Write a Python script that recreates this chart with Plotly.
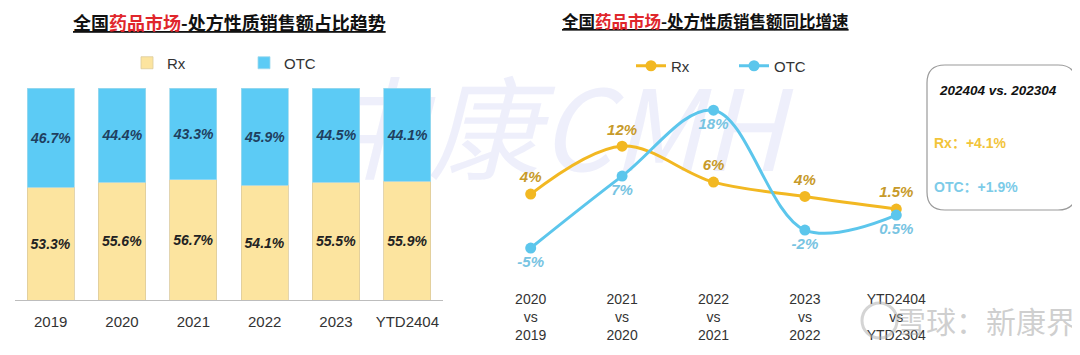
import plotly.graph_objects as go

# ---------------- data ----------------
years = ["2019", "2020", "2021", "2022", "2023", "YTD2404"]
rx_share = [53.3, 55.6, 56.7, 54.1, 55.5, 55.9]
otc_share = [46.7, 44.4, 43.3, 45.9, 44.5, 44.1]

periods = ["2020<br>vs<br>2019", "2021<br>vs<br>2020", "2022<br>vs<br>2021",
           "2023<br>vs<br>2022", "YTD2404<br>vs<br>YTD2304"]
rx_growth = [4.0, 12.0, 6.0, 3.6, 1.5]
rx_growth_labels = ["4%", "12%", "6%", "4%", "1.5%"]
otc_growth = [-5.0, 7.0, 18.0, -2.0, 0.5]
otc_growth_labels = ["-5%", "7%", "18%", "-2%", "0.5%"]

box_title = "202404 vs. 202304"
box_rx = "Rx：+4.1%"
box_otc = "OTC：+1.9%"

# ---------------- style ----------------
RX_BAR = "#FCE49F"
OTC_BAR = "#5CCBF5"
RX_LINE = "#F2B822"
OTC_LINE = "#5CC6EC"
RX_LBL = "#C79A2A"
OTC_LBL = "#78C4E2"
FONT = "Liberation Sans, Arial, sans-serif"
CJK = "Noto Sans CJK SC, sans-serif"
OFF = 8  # page body margin
W, H = 1080 - OFF, 355 - OFF


def px(x):
    return (x - OFF) / W


def py(y):
    return 1 - (y - OFF) / H


fig = go.Figure()

# left stacked bars
fig.add_trace(go.Bar(
    x=years, y=rx_share, name="Rx", marker=dict(color=RX_BAR, line=dict(color="#DCCB9C", width=0.8)),
    text=[f"{v:.1f}%" for v in rx_share], textposition="inside", insidetextanchor="middle",
    textangle=0, constraintext="none",
    textfont=dict(family=FONT, size=14, color="#222222"), texttemplate="<b><i>%{text}</i></b>",
    xaxis="x", yaxis="y", legend="legend",
))
fig.add_trace(go.Bar(
    x=years, y=otc_share, name="OTC", marker=dict(color=OTC_BAR, line=dict(color="#9FD9EE", width=0.8)),
    text=[f"{v:.1f}%" for v in otc_share], textposition="inside", insidetextanchor="middle",
    textangle=0, constraintext="none",
    textfont=dict(family=FONT, size=14, color="#1F3F5F"), texttemplate="<b><i>%{text}</i></b>",
    xaxis="x", yaxis="y", legend="legend",
))

# right lines
fig.add_trace(go.Scatter(
    x=periods, y=rx_growth, name="Rx", mode="lines+markers+text",
    line=dict(color=RX_LINE, width=3, shape="spline", smoothing=1.0),
    marker=dict(color=RX_LINE, size=11),
    text=[f"<b><i>{t}</i></b>" for t in rx_growth_labels], textposition="top center",
    textfont=dict(family=FONT, size=15, color=RX_LBL),
    xaxis="x2", yaxis="y2", legend="legend2", cliponaxis=False,
))
fig.add_trace(go.Scatter(
    x=periods, y=otc_growth, name="OTC", mode="lines+markers+text",
    line=dict(color=OTC_LINE, width=3, shape="spline", smoothing=1.0),
    marker=dict(color=OTC_LINE, size=11),
    text=[f"<b><i>{t}</i></b>" for t in otc_growth_labels], textposition="bottom center",
    textfont=dict(family=FONT, size=15, color=OTC_LBL),
    xaxis="x2", yaxis="y2", legend="legend2", cliponaxis=False,
))

# rounded box
x0, x1, y0, y1 = px(927), px(1076), py(210), py(65)
rx_, ry_ = 18 / W, 18 / H
path = (f"M {x0+rx_},{y1} L {x1-rx_},{y1} Q {x1},{y1} {x1},{y1-ry_} "
        f"L {x1},{y0+ry_} Q {x1},{y0} {x1-rx_},{y0} L {x0+rx_},{y0} "
        f"Q {x0},{y0} {x0},{y0+ry_} L {x0},{y1-ry_} Q {x0},{y1} {x0+rx_},{y1} Z")

shapes = [
    # watermark (below traces)
    dict(type="rect", xref="paper", yref="paper", x0=px(270), x1=px(830), y0=py(195), y1=py(85),
         line=dict(width=0), fillcolor="rgba(0,0,0,0)", layer="below",
         label=dict(text="<i>中康CMH</i>", font=dict(family=CJK, size=112, color="rgba(212,215,245,0.40)"),
                    textposition="middle center")),
    dict(type="path", xref="paper", yref="paper", path=path,
         line=dict(color="#9A9A9A", width=1.2), fillcolor="white", layer="above"),
    # watermark logo ring
    dict(type="circle", xref="paper", yref="paper", x0=px(862), x1=px(897), y0=py(338), y1=py(303),
         line=dict(color="rgba(170,170,170,0.5)", width=3), fillcolor="rgba(0,0,0,0)", layer="above"),
]

annotations = [
    dict(text="<b><u>全国<span style='color:#E0262B'>药品市场</span>-处方性质销售额占比趋势</u></b>",
         x=px(229), y=py(22), xref="paper", yref="paper", showarrow=False,
         font=dict(family=CJK, size=18, color="#111111"), xanchor="center", yanchor="middle"),
    dict(text="<b><u>全国<span style='color:#E0262B'>药品市场</span>-处方性质销售额同比增速</u></b>",
         x=px(705), y=py(21), xref="paper", yref="paper", showarrow=False,
         font=dict(family=CJK, size=16.5, color="#111111"), xanchor="center", yanchor="middle"),
    dict(text=f"<b><i>{box_title}</i></b>", x=px(998), y=py(90), xref="paper", yref="paper",
         showarrow=False, font=dict(family=FONT, size=13.5, color="#111111"), xanchor="center", yanchor="middle"),
    dict(text=f"<b>{box_rx}</b>", x=px(932), y=py(143), xref="paper", yref="paper",
         showarrow=False, font=dict(family=FONT + ", " + CJK, size=14, color="#F2C43A"), xanchor="left", yanchor="middle"),
    dict(text=f"<b>{box_otc}</b>", x=px(932), y=py(187), xref="paper", yref="paper",
         showarrow=False, font=dict(family=FONT + ", " + CJK, size=14, color="#7CCBE8"), xanchor="left", yanchor="middle"),
    dict(text="雪球：新康界", x=px(1078), y=py(320), xref="paper", yref="paper",
         showarrow=False, font=dict(family=CJK, size=30, color="rgba(160,160,160,0.5)"), xanchor="right", yanchor="middle"),
]

fig.update_layout(
    width=W, height=H, margin=dict(l=0, r=0, t=0, b=0),
    paper_bgcolor="white", plot_bgcolor="rgba(0,0,0,0)",
    barmode="stack", bargap=0.34,
    font=dict(family=FONT, color="#333333"),
    showlegend=True,
    xaxis=dict(domain=[px(15), px(443)], range=[-0.5, 5.5], showgrid=False, showline=True,
               linecolor="#BDBDBD", linewidth=1,
               ticks="", tickfont=dict(size=15, color="#333333"), ticklabelstandoff=8, fixedrange=True),
    yaxis=dict(domain=[py(300), py(88)], range=[0, 100], visible=False, fixedrange=True),
    xaxis2=dict(domain=[px(485), px(942)], range=[-0.5, 4.5], anchor="y2", showgrid=False,
                showline=False, zeroline=False,
                ticks="", tickfont=dict(size=14, color="#333333"), ticklabelstandoff=5, fixedrange=True),
    yaxis2=dict(domain=[py(284), py(64)], range=[-11, 25.7], visible=False, fixedrange=True),
    legend=dict(orientation="h", x=px(244), y=py(63), xanchor="center", yanchor="middle",
                font=dict(size=15, color="#333333"), entrywidth=72, traceorder="normal",
                bgcolor="rgba(0,0,0,0)"),
    legend2=dict(orientation="h", x=px(734), y=py(66), xanchor="center", yanchor="middle",
                 font=dict(size=15, color="#333333"), entrywidth=58, traceorder="normal",
                 bgcolor="rgba(0,0,0,0)"),
    shapes=shapes, annotations=annotations,
)

fig.write_html("out.html")
